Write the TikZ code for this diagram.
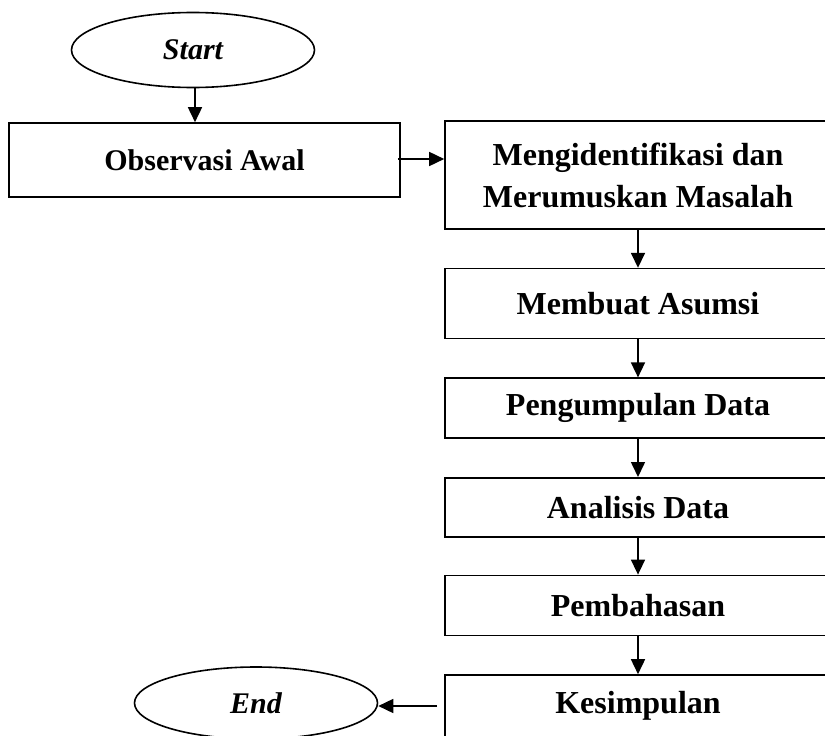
\documentclass[tikz,border=0pt]{standalone}
\usepackage{fontspec}
\setmainfont{Liberation Serif}
\usetikzlibrary{arrows.meta,positioning,shapes.geometric,calc}

\begin{document}
\begin{tikzpicture}[
  x=1pt, y=-1pt,
  >={Triangle[length=15pt,width=14pt]},
  font=\fontsize{32}{42}\selectfont\bfseries,
  box/.style={draw, line width=1.6pt, align=center, inner sep=0pt,
              minimum width=386pt},
  term/.style={draw, line width=1.6pt, ellipse, inner sep=0pt,
               minimum width=243pt, font=\fontsize{30}{40}\selectfont\bfseries\itshape},
  flow/.style={->, line width=1.6pt}
]
\useasboundingbox (0,0) rectangle (825,736);
\clip (0,0) rectangle (825,736);

% left part
\node[term, minimum height=75pt] (start) at (193,50) {Start};
\node[box, minimum width=391pt, minimum height=74pt,
      font=\fontsize{30}{40}\selectfont\bfseries] (obs) at (204.5,160)
  {Observasi Awal};

% main column
\node[box, minimum height=108pt] (ident) at (638,175)
  {Mengidentifikasi dan\\Merumuskan Masalah};
\node[box, minimum height=70pt, below=38pt of ident] (asumsi) {Membuat Asumsi};
\node[box, minimum height=60pt, below=38pt of asumsi] (kumpul) {Pengumpulan Data};
\node[box, minimum height=59pt, below=38pt of kumpul] (analisis) {Analisis Data};
\node[box, minimum height=60pt, below=37pt of analisis] (bahas) {Pembahasan};
\node[box, minimum height=62pt, below=38pt of bahas] (simpul) {Kesimpulan};

\node[term, minimum height=72pt] (end) at (256,703) {End};

% connectors
\draw[flow] ($(start.south)+(2,0)$) -- ($(start.south |- obs.north)+(2,0)$);
\draw[flow, shorten <=-3pt] ($(obs.east)+(0,-1)$) -- ($(obs.east -| ident.west)+(0,-1)$);
\draw[flow] (ident) -- (asumsi);
\draw[flow] (asumsi) -- (kumpul);
\draw[flow] (kumpul) -- (analisis);
\draw[flow] (analisis) -- (bahas);
\draw[flow] (bahas) -- (simpul);
\draw[flow, shorten <=7pt] (simpul.west) -- (simpul.west -| end.east);

\end{tikzpicture}
\end{document}
